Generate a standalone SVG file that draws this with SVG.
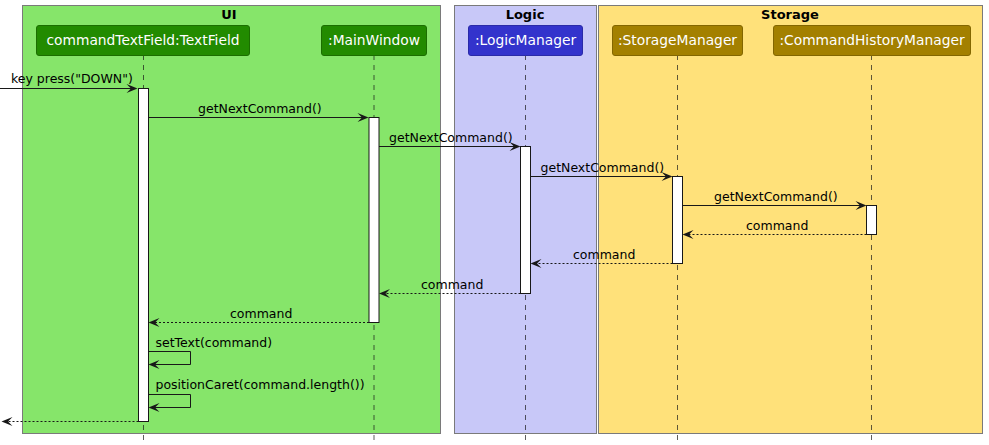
<svg xmlns="http://www.w3.org/2000/svg" width="989" height="445" viewBox="0 0 989 445">
<defs>
<style>
.box{stroke:#7a7a7a;stroke-width:1}
.title{font-family:"DejaVu Sans",sans-serif;font-size:13px;font-weight:bold;fill:#000;text-anchor:middle}
.pname{font-family:"DejaVu Sans",sans-serif;font-size:13.8px;fill:#fff;text-anchor:middle}
.msg{font-family:"DejaVu Sans",sans-serif;font-size:12.5px;fill:#000}
.life{stroke:#181818;stroke-width:0.7;stroke-dasharray:5,5;fill:none}
.act{fill:#fff;stroke:#181818;stroke-width:1}
.call{stroke:#181818;stroke-width:1;fill:none}
.ret{stroke:#181818;stroke-width:1;fill:none;stroke-dasharray:2,2}
.ah{fill:#181818}
</style>
</defs>
<rect width="989" height="445" fill="#fff"/>
<g id="box-ui">
<rect class="box" x="22.5" y="5.5" width="418" height="428" fill="#86E56A"/>
<text class="title" x="229" y="19">UI</text>
</g>
<g id="box-logic">
<rect class="box" x="454.5" y="5.5" width="142" height="428" fill="#C8C8F8"/>
<text class="title" x="525" y="19">Logic</text>
</g>
<g id="box-storage">
<rect class="box" x="598.5" y="5.5" width="384" height="428" fill="#FFE17A"/>
<text class="title" x="790" y="19">Storage</text>
</g>
<g id="lifelines">
<line class="life" x1="143.5" y1="55" x2="143.5" y2="445"/>
<line class="life" x1="374" y1="55" x2="374" y2="445"/>
<line class="life" x1="525.5" y1="55" x2="525.5" y2="445"/>
<line class="life" x1="677.5" y1="55" x2="677.5" y2="445"/>
<line class="life" x1="871.5" y1="55" x2="871.5" y2="445"/>
</g>
<g id="commandTextField">
<rect x="36.5" y="25.5" width="213" height="30" rx="2.5" fill="#228B00" stroke="#1B6E00"/>
<text class="pname" x="143" y="45">commandTextField:TextField</text>
<rect class="act" x="138.5" y="88.5" width="10" height="333"/>
</g>
<g id="mainWindow">
<rect x="321.5" y="25.5" width="105" height="30" rx="2.5" fill="#228B00" stroke="#1B6E00"/>
<text class="pname" x="374" y="45">:MainWindow</text>
<rect class="act" x="369" y="117.5" width="10" height="205"/>
</g>
<g id="logicManager">
<rect x="468.5" y="25.5" width="114" height="30" rx="2.5" fill="#3333CC" stroke="#2A2AA8"/>
<text class="pname" x="525.5" y="45">:LogicManager</text>
<rect class="act" x="520.5" y="146.5" width="10" height="147"/>
</g>
<g id="storageManager">
<rect x="612.5" y="25.5" width="130" height="30" rx="2.5" fill="#A38000" stroke="#836600"/>
<text class="pname" x="677.5" y="45">:StorageManager</text>
<rect class="act" x="672.5" y="176.5" width="10" height="87"/>
</g>
<g id="commandHistoryManager">
<rect x="773.5" y="25.5" width="197" height="30" rx="2.5" fill="#A38000" stroke="#836600"/>
<text class="pname" x="872" y="45">:CommandHistoryManager</text>
<rect class="act" x="866.5" y="205.5" width="10" height="29"/>
</g>
<g id="connectors">
<line class="call" x1="0" y1="88.5" x2="136" y2="88.5"/>
<polygon class="ah" points="137.5,88.5 126.5,84 131,88.5 126.5,93"/>
<text class="msg" x="11" y="83">key press("DOWN")</text>

<line class="call" x1="148.5" y1="117.5" x2="367" y2="117.5"/>
<polygon class="ah" points="368.5,117.5 357.5,113 362,117.5 357.5,122"/>
<text class="msg" x="198" y="113">getNextCommand()</text>

<line class="call" x1="379" y1="146.5" x2="519" y2="146.5"/>
<polygon class="ah" points="520.5,146.5 509.5,142 514,146.5 509.5,151"/>
<text class="msg" x="389" y="142">getNextCommand()</text>

<line class="call" x1="530.5" y1="176.5" x2="671" y2="176.5"/>
<polygon class="ah" points="672.5,176.5 661.5,172 666,176.5 661.5,181"/>
<text class="msg" x="540.5" y="172">getNextCommand()</text>

<line class="call" x1="682.5" y1="205.5" x2="865" y2="205.5"/>
<polygon class="ah" points="866.5,205.5 855.5,201 860,205.5 855.5,210"/>
<text class="msg" x="714" y="201">getNextCommand()</text>

<line class="ret" x1="866.5" y1="234.5" x2="684" y2="234.5"/>
<polygon class="ah" points="682.5,234.5 693.5,230 689,234.5 693.5,239"/>
<text class="msg" x="746" y="230">command</text>

<line class="ret" x1="672.5" y1="263.5" x2="532" y2="263.5"/>
<polygon class="ah" points="530.5,263.5 541.5,259 537,263.5 541.5,268"/>
<text class="msg" x="573" y="259">command</text>

<line class="ret" x1="520.5" y1="293.5" x2="380.5" y2="293.5"/>
<polygon class="ah" points="379,293.5 390,289 385.5,293.5 390,298"/>
<text class="msg" x="421" y="289">command</text>

<line class="ret" x1="369" y1="322.5" x2="150" y2="322.5"/>
<polygon class="ah" points="148.5,322.5 159.5,318 155,322.5 159.5,327"/>
<text class="msg" x="230" y="318">command</text>

<polyline class="call" points="148.5,351.5 190.5,351.5 190.5,364.5 150,364.5"/>
<polygon class="ah" points="148.5,364.5 159.5,360 155,364.5 159.5,369"/>
<text class="msg" x="155.5" y="347">setText(command)</text>

<polyline class="call" points="148.5,394.5 190.5,394.5 190.5,407.5 150,407.5"/>
<polygon class="ah" points="148.5,407.5 159.5,403 155,407.5 159.5,412"/>
<text class="msg" x="155.5" y="389">positionCaret(command.length())</text>

<line class="ret" x1="138.5" y1="421.5" x2="3" y2="421.5"/>
<polygon class="ah" points="1.5,421.5 12.5,417 8,421.5 12.5,426"/>
</g>
</svg>
